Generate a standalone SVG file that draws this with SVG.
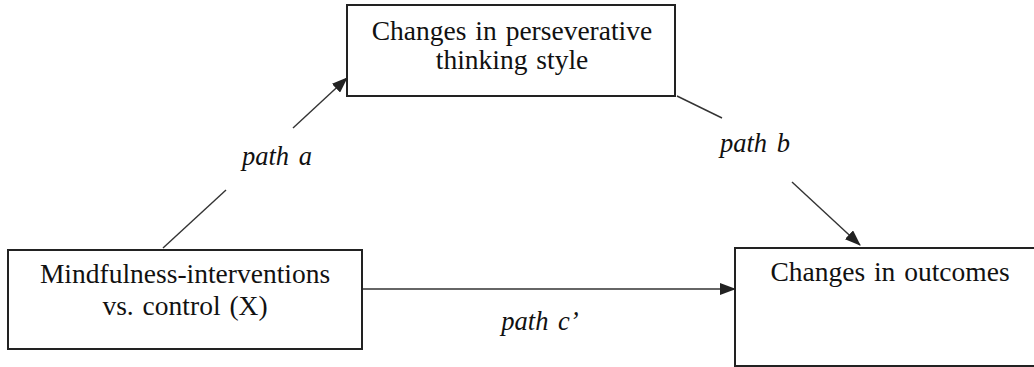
<svg xmlns="http://www.w3.org/2000/svg" width="1034" height="367" viewBox="0 0 1034 367">
<style>
.box{fill:#fff;stroke:#222;stroke-width:2}
.t{font-family:"Liberation Serif","Times New Roman",serif;font-size:27.5px;fill:#111;text-anchor:middle;word-spacing:2px}
.lbl{font-family:"Liberation Serif","Times New Roman",serif;font-size:26.5px;font-style:italic;fill:#111;text-anchor:middle;word-spacing:3px}
.c{stroke:#333;stroke-width:1.4;fill:none}
</style>
<defs>
<marker id="ah" markerUnits="userSpaceOnUse" markerWidth="16" markerHeight="12" refX="15" refY="6" orient="auto">
<path d="M0,0 L16,6 L0,12 Z" fill="#222"/>
</marker>
</defs>
<rect width="1034" height="367" fill="#fff"/>
<g id="connectors">
<line class="c" x1="163" y1="248" x2="226" y2="190"/>
<line class="c" x1="293" y1="128" x2="347" y2="78" marker-end="url(#ah)"/>
<line class="c" x1="677" y1="96" x2="722" y2="118"/>
<line class="c" x1="792" y1="182" x2="860" y2="245" marker-end="url(#ah)"/>
<line class="c" x1="362" y1="289" x2="735" y2="289" marker-end="url(#ah)"/>
<text class="lbl" x="277" y="165">path a</text>
<text class="lbl" x="755" y="152">path b</text>
<text class="lbl" x="540" y="330">path c’</text>
</g>
<g id="node-mediator">
<rect class="box" x="347" y="5" width="328" height="91"/>
<text class="t" x="512" y="40">Changes in perseverative</text>
<text class="t" x="512" y="69">thinking style</text>
</g>
<g id="node-x">
<rect class="box" x="8" y="250" width="354" height="99"/>
<text class="t" x="185" y="283">Mindfulness-interventions</text>
<text class="t" x="185" y="315">vs. control (X)</text>
</g>
<g id="node-outcome">
<rect class="box" x="735" y="248" width="310" height="118"/>
<text class="t" x="890" y="281">Changes in outcomes</text>
</g>
</svg>
